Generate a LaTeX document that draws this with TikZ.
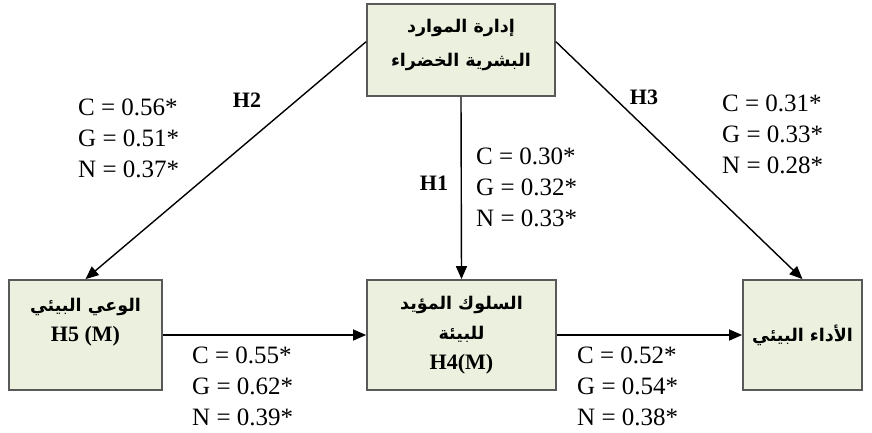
\documentclass[tikz,border=0pt]{standalone}
\usepackage{fontspec}
\setmainfont{Liberation Serif}
\newfontfamily\arabicfont[Script=Arabic]{DejaVu Sans}
\TeXXeTstate=1
\usetikzlibrary{arrows.meta}
\definecolor{boxfill}{HTML}{EBF1DE}
\definecolor{boxline}{HTML}{595959}
\tikzset{
  box/.style={draw=boxline, line width=1.8pt, fill=boxfill, inner sep=0pt, align=center,
    font=\arabicfont\bfseries\fontsize{17.5}{30}\selectfont},
  conn/.style={line width=1.4pt, -{Triangle[length=13pt,width=11pt]}},
  stat/.style={font=\fontsize{25}{31}\selectfont, align=left, inner sep=0pt, anchor=north west},
  hyp/.style={font=\bfseries\fontsize{22}{24}\selectfont, inner sep=0pt},
}
\newcommand{\latb}[1]{{\rmfamily\bfseries\fontsize{22}{30}\selectfont #1}}
\begin{document}
\begin{tikzpicture}[x=1pt,y=-1pt]
\useasboundingbox (0,0) rectangle (872,432);
\fill[white] (0,0) rectangle (872,432);

\node[box, minimum width=188pt, minimum height=92pt] (top) at (461,50)
  {{\beginR إدارة الموارد\endR}\\[4pt]{\beginR البشرية الخضراء\endR}\\[-15pt]\mbox{}};
\node[box, minimum width=153pt, minimum height=110pt] (aware) at (85.5,335)
  {{\beginR الوعي البيئي\endR}\\\latb{H5 (M)}\\\mbox{}};
\node[box, minimum width=189pt, minimum height=110pt] (behav) at (461.5,335)
  {{\beginR السلوك المؤيد\endR}\\{\beginR للبيئة\endR}\\\latb{H4(M)}};
\node[box, minimum width=119pt, minimum height=110pt] (perf) at (802.5,335)
  {{\beginR الأداء البيئي\endR}};

\draw[conn] (top.south) -- (behav.north);
\draw[conn] (top.175) -- (aware.north);
\draw[conn] (top.5) -- (perf.north);
\draw[conn] (aware.east) -- (behav.west);
\draw[conn] (behav.east) -- (perf.west);

\node[hyp] (h1) at (434,183) {H1};
\node[hyp] (h2) at (247,100) {H2};
\node[hyp] (h3) at (644,97) {H3};

\node[stat] (s2) at (78,99) {C = 0.56*\\G = 0.51*\\N = 0.37*};
\node[stat] (s3) at (722,95) {C = 0.31*\\G = 0.33*\\N = 0.28*};
\node[stat] (s1) at (476,148) {C = 0.30*\\G = 0.32*\\N = 0.33*};
\node[stat] (s5) at (192,347) {C = 0.55*\\G = 0.62*\\N = 0.39*};
\node[stat] (s4) at (577,347) {C = 0.52*\\G = 0.54*\\N = 0.38*};
\end{tikzpicture}
\end{document}
